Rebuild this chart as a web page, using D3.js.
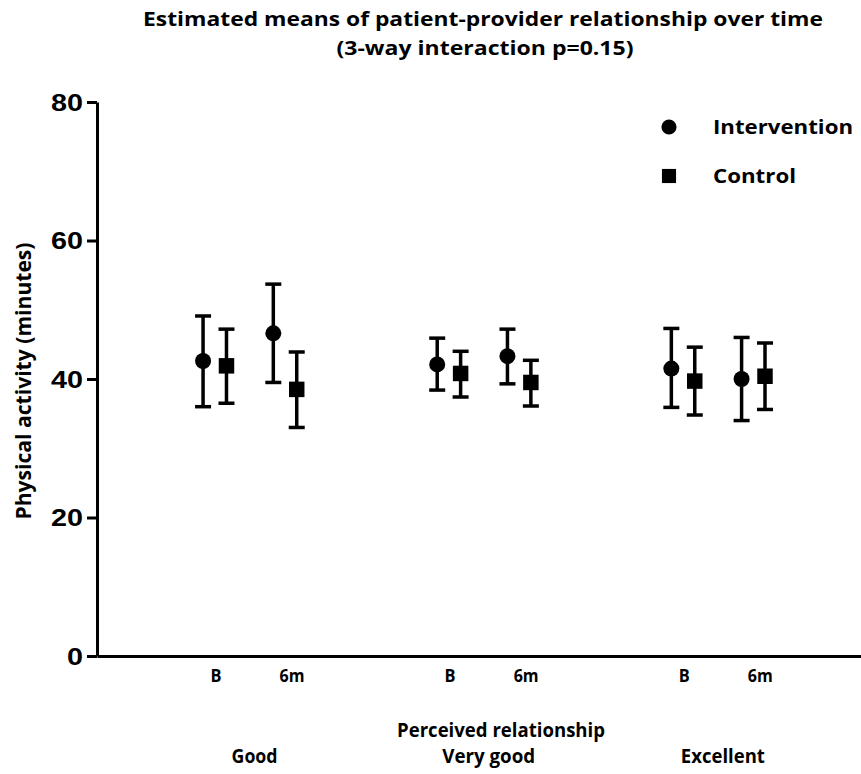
<!DOCTYPE html>
<html>
<head>
<meta charset="utf-8">
<script src="https://cdn.jsdelivr.net/npm/d3@7/dist/d3.min.js"></script>
<style>
  html, body { margin: 0; padding: 0; background: #fff; }
  svg { display: block; }
  text { font-family: "Open Sans", "Noto Sans", sans-serif; font-weight: bold; fill: #000; }
</style>
</head>
<body>
<svg id="chart" width="861" height="774"></svg>
<script>
// ---- data ----
const categories = ["Good", "Very good", "Excellent"];
const times = ["B", "6m"];
const seriesNames = ["Intervention", "Control"];
const yTicks = [0, 20, 40, 60, 80];
// order: Good B, Good 6m, Very good B, Very good 6m, Excellent B, Excellent 6m
const interventionMean = [42.6, 46.6, 42.1, 43.3, 41.5, 40.0];
const interventionLow  = [36.0, 39.5, 38.4, 39.3, 35.9, 34.0];
const interventionHigh = [49.1, 53.7, 45.9, 47.2, 47.3, 46.0];
const controlMean = [41.9, 38.5, 40.8, 39.5, 39.7, 40.4];
const controlLow  = [36.5, 33.0, 37.4, 36.1, 34.8, 35.6];
const controlHigh = [47.2, 43.9, 44.0, 42.7, 44.6, 45.2];

const svg = d3.select("#chart");

const x = d3.scaleLinear().domain([-4.53, 28.1]).range([97, 861]);
const y = d3.scaleLinear().domain([0, 80]).range([656, 102]);

function pos(g, t, s) { return 10 * g + 3 * t + s; }

// text with a given height (font size) squeezed to a target width
function txt(parent, px, py, str, size, width, anchor) {
  const t = parent.append("text").attr("x", px).attr("y", py)
    .attr("text-anchor", anchor || "middle")
    .style("font-size", size + "px").text(str);
  if (width) t.attr("textLength", width).attr("lengthAdjust", "spacingAndGlyphs");
  return t;
}

// title
txt(svg, 483, 26, "Estimated means of patient-provider relationship over time", 19.5, 680);
txt(svg, 485, 55, "(3-way interaction p=0.15)", 19.5, 297);

// y axis
const yAxis = svg.append("g").attr("transform", "translate(97,0)")
  .call(d3.axisLeft(y).tickValues(yTicks).tickSize(10).tickSizeOuter(0).tickPadding(4));
yAxis.select(".domain").attr("stroke", "#000").attr("stroke-width", 3);
yAxis.selectAll(".tick line").attr("stroke", "#000").attr("stroke-width", 3);
yAxis.selectAll(".tick text")
  .style("font-family", "'Liberation Sans', Arial, sans-serif")
  .style("font-weight", "bold").style("font-size", "23px").attr("dy", "0.36em")
  .attr("fill", "#000")
  .attr("textLength", d => String(d).length * 16)
  .attr("lengthAdjust", "spacingAndGlyphs");

// x axis line
const xAxis = svg.append("g").attr("transform", "translate(0,656)")
  .call(d3.axisBottom(x).tickValues([]).tickSizeOuter(0));
xAxis.select(".domain").attr("stroke", "#000").attr("stroke-width", 3);

// y axis label
txt(svg, 0, 0, "Physical activity (minutes)", 20.5, 277)
  .attr("transform", "translate(31,381) rotate(-90)");

// time tick labels + category labels
const timeW = { "B": 11, "6m": 25 };
const catW = [46, 93, 84];
categories.forEach((c, g) => {
  times.forEach((tm, t) => {
    txt(svg, x(pos(g, t, 0) + (t === 0 ? 0.55 : 0.8)), 682, tm, 18.5, timeW[tm]);
  });
  txt(svg, x(pos(g, 0, 0) + 2.2), 763, c, 19, catW[g]);
});
txt(svg, 501, 737, "Perceived relationship", 19, 208);

// data points
const series = [
  { name: seriesNames[0], mean: interventionMean, lo: interventionLow, hi: interventionHigh, sym: d3.symbolCircle, size: 201, off: 0 },
  { name: seriesNames[1], mean: controlMean, lo: controlLow, hi: controlHigh, sym: d3.symbolSquare, size: 240, off: 1 }
];

series.forEach(s => {
  const pts = s.mean.map((m, i) => ({
    px: x(pos(Math.floor(i / 2), i % 2, s.off)), m, lo: s.lo[i], hi: s.hi[i]
  }));
  const g = svg.append("g");
  g.selectAll(".eb").data(pts).join("line")
    .attr("x1", d => d.px).attr("x2", d => d.px)
    .attr("y1", d => y(d.lo)).attr("y2", d => y(d.hi))
    .attr("stroke", "#000").attr("stroke-width", 3.5);
  g.selectAll(".capH").data(pts).join("line")
    .attr("x1", d => d.px - 8).attr("x2", d => d.px + 8)
    .attr("y1", d => y(d.hi)).attr("y2", d => y(d.hi))
    .attr("stroke", "#000").attr("stroke-width", 3.5);
  g.selectAll(".capL").data(pts).join("line")
    .attr("x1", d => d.px - 8).attr("x2", d => d.px + 8)
    .attr("y1", d => y(d.lo)).attr("y2", d => y(d.lo))
    .attr("stroke", "#000").attr("stroke-width", 3.5);
  g.selectAll(".pt").data(pts).join("path")
    .attr("d", d3.symbol().type(s.sym).size(s.size))
    .attr("transform", d => `translate(${d.px},${y(d.m)})`)
    .attr("fill", "#000");
});

// legend
const legW = [140, 83];
series.forEach((s, i) => {
  const ly = 127 + i * 49;
  svg.append("path").attr("d", d3.symbol().type(s.sym).size(i === 0 ? 180 : 200)())
    .attr("transform", `translate(669,${ly})`).attr("fill", "#000");
  txt(svg, 713, ly + 7, s.name, 20, legW[i], "start");
});
</script>
</body>
</html>
